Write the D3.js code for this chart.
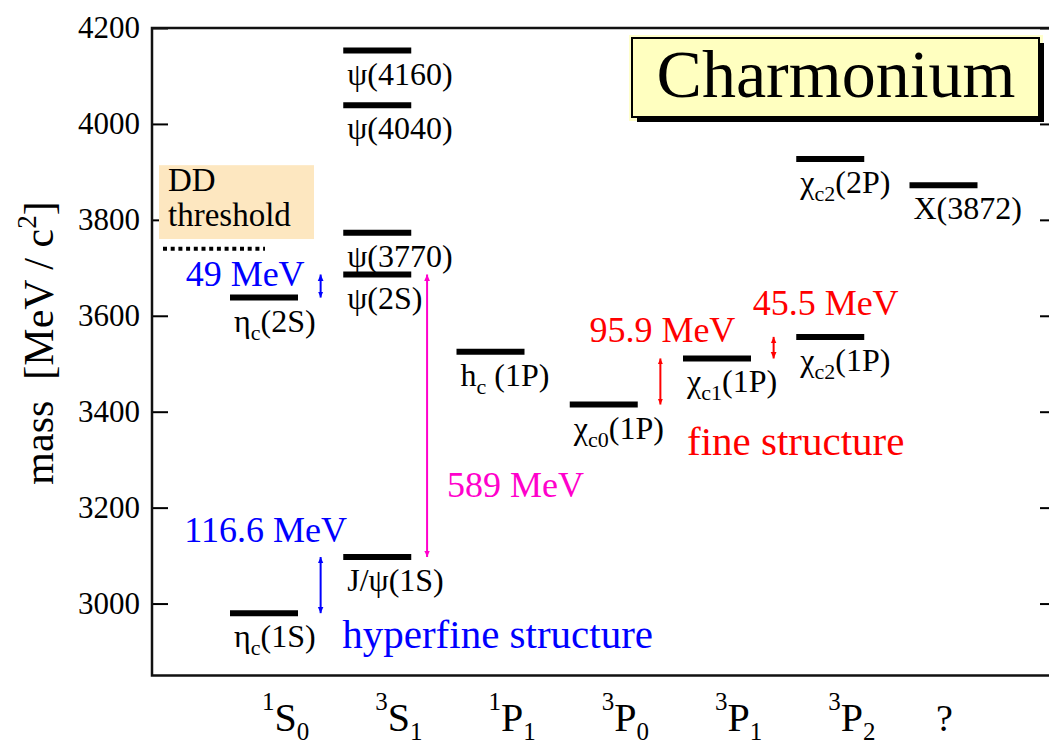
<!DOCTYPE html>
<html>
<head>
<meta charset="utf-8">
<script src="https://cdn.jsdelivr.net/npm/d3@7"></script>
<style>
  body { margin: 0; background: #fff; }
  text { font-family: "Liberation Serif", "Times New Roman", serif; }
</style>
</head>
<body>
<div id="chart"></div>
<script>
// ---- data ----
var categories = ["1S0", "3S1", "1P1", "3P0", "3P1", "3P2", "?"];
var catSup  = ["1", "3", "1", "3", "3", "3", ""];
var catMain = ["S", "S", "P", "P", "P", "P", "?"];
var catSub  = ["0", "1", "1", "0", "1", "2", ""];

var levelBase = ["η", "η", "ψ", "ψ", "ψ", "ψ", "J/ψ", "h", "χ", "χ", "χ", "χ", "X"];
var levelSub  = ["c", "c", "", "", "", "", "", "c", "c0", "c1", "c2", "c2", ""];
var levelTail = ["(1S)", "(2S)", "(4160)", "(4040)", "(3770)", "(2S)", "(1S)", "\u00a0(1P)", "(1P)", "(1P)", "(1P)", "(2P)", "(3872)"];
var levelCol  = ["1S0", "1S0", "3S1", "3S1", "3S1", "3S1", "3S1", "1P1", "3P0", "3P1", "3P2", "3P2", "?"];
var levelMass = [2980, 3638, 4153, 4039, 3773, 3686, 3097, 3525, 3415, 3511, 3556, 3927, 3872];

var yTicks = [3000, 3200, 3400, 3600, 3800, 4000, 4200];
var ddThreshold = 3740;

// splittings (double arrows between two levels)
var splitText = ["49 MeV", "116.6 MeV", "589 MeV", "95.9 MeV", "45.5 MeV"];
var splitLow  = [3638, 2980, 3097, 3415, 3511];
var splitHigh = [3686, 3097, 3686, 3511, 3556];

// ---- layout ----
var W = 1049, H = 741;
var plot = { left: 152, top: 28, right: 1050, bottom: 675.5 };
var serif = '"Liberation Serif", "Times New Roman", serif';

var svg = d3.select("#chart").append("svg")
    .attr("width", W)
    .attr("height", H);

var y = d3.scaleLinear().domain([2850, 4200]).range([plot.bottom, plot.top]);
var x = d3.scalePoint().domain(categories).range([264, 943.5]);
var step = x.step();
function xcol(f) { return x(categories[0]) + f * step; }  // fractional column position

// arrow positions (in columns) and label placement
var splitCol    = [0.5, 0.5, 1.44, 3.5, 4.5];
var splitColor  = ["#0000ff", "#0000ff", "#ff00cc", "#ff0000", "#ff0000"];
var splitDx     = [-16, -55, 20, 2, 52];
var splitAnchor = ["end", "middle", "start", "middle", "middle"];
var splitTextAt = [3662, 3129, 3222, 3546, 3602];

// ---- markers ----
var defs = svg.append("defs");
Array.from(new Set(splitColor)).forEach(function(c) {
    var id = "arr" + c.slice(1);
    defs.append("marker")
        .attr("id", id + "e")
        .attr("markerUnits", "userSpaceOnUse")
        .attr("markerWidth", 12).attr("markerHeight", 12)
        .attr("viewBox", "-6 -6 12 12")
        .attr("refX", 0).attr("refY", 0)
        .attr("orient", "auto")
        .append("path")
            .attr("d", "M0,0 L-9,-4 L-9,4 Z")
            .attr("fill", c);
    defs.append("marker")
        .attr("id", id + "s")
        .attr("markerUnits", "userSpaceOnUse")
        .attr("markerWidth", 12).attr("markerHeight", 12)
        .attr("viewBox", "-6 -6 12 12")
        .attr("refX", 0).attr("refY", 0)
        .attr("orient", "auto")
        .append("path")
            .attr("d", "M0,0 L9,-4 L9,4 Z")
            .attr("fill", c);
});

// ---- axes ----
var leftAxis = d3.axisLeft(y).tickValues(yTicks).tickFormat(d3.format("d"))
    .tickSizeInner(-16).tickSizeOuter(0).tickPadding(12);
svg.append("g")
    .attr("transform", "translate(" + plot.left + ",0)")
    .call(leftAxis)
    .call(g => g.select(".domain").remove())
    .call(g => g.selectAll(".tick line").attr("stroke", "#000").attr("stroke-width", 2))
    .call(g => g.selectAll(".tick text")
        .attr("fill", "#000")
        .attr("font-family", serif)
        .attr("font-size", 31));

var rightAxis = d3.axisRight(y).tickValues(yTicks).tickSizeInner(-10).tickSizeOuter(0).tickFormat("");
svg.append("g")
    .attr("transform", "translate(" + plot.right + ",0)")
    .call(rightAxis)
    .call(g => g.select(".domain").remove())
    .call(g => g.selectAll(".tick line").attr("stroke", "#000").attr("stroke-width", 2));

// frame
svg.append("path")
    .attr("d", "M" + plot.right + "," + plot.top + " H" + plot.left + " V" + plot.bottom + " H" + plot.right)
    .attr("fill", "none")
    .attr("stroke", "#111")
    .attr("stroke-width", 2.5);

// bottom category labels
var catLab = svg.append("g").selectAll("text")
    .data(categories)
    .enter().append("text")
        .attr("x", (d, i) => catSup[i] ? x(d) - 2 : x(d) + 1)
        .attr("y", 731)
        .attr("text-anchor", (d, i) => catSup[i] ? "start" : "middle")
        .attr("fill", "#000");
catLab.each(function(d, i) {
    var t = d3.select(this);
    if (catSup[i]) {
        t.append("tspan").attr("font-size", 25).attr("dy", -21).text(catSup[i]);
        t.append("tspan").attr("font-size", 40).attr("dy", 21).text(catMain[i]);
        t.append("tspan").attr("font-size", 25).attr("dy", 9).text(catSub[i]);
    } else {
        t.append("tspan").attr("font-size", 38).text(catMain[i]);
    }
});

// y axis title
svg.append("text")
    .attr("transform", "translate(53,343) rotate(-90)")
    .attr("text-anchor", "middle")
    .attr("font-size", 42)
    .attr("fill", "#000")
    .call(t => {
        t.append("tspan").text("mass\u00a0\u00a0[MeV / c");
        t.append("tspan").attr("font-size", 27).attr("dy", -17).text("2");
        t.append("tspan").attr("dy", 17).text("]");
    });

// DD threshold box + dotted line
svg.append("rect")
    .attr("x", x("1S0") - 105).attr("y", y(3914))
    .attr("width", 155).attr("height", y(3760) - y(3914))
    .attr("fill", "#fde7c0");
svg.append("text")
    .attr("x", x("1S0") - 96).attr("y", y(3860))
    .attr("font-size", 33).attr("fill", "#000")
    .text("DD");
svg.append("text")
    .attr("x", x("1S0") - 96).attr("y", y(3788))
    .attr("font-size", 33).attr("fill", "#000")
    .text("threshold");
svg.append("line")
    .attr("x1", x("1S0") - 101).attr("x2", x("1S0") + 1)
    .attr("y1", y(ddThreshold)).attr("y2", y(ddThreshold))
    .attr("stroke", "#000")
    .attr("stroke-width", 4)
    .attr("stroke-dasharray", "4 3.7");

// energy levels
var half = 34;
svg.append("g").selectAll("line")
    .data(levelMass)
    .enter().append("line")
        .attr("x1", (d, i) => x(levelCol[i]) - half)
        .attr("x2", (d, i) => x(levelCol[i]) + half)
        .attr("y1", d => y(d))
        .attr("y2", d => y(d))
        .attr("stroke", "#000")
        .attr("stroke-width", 6);

var lvLab = svg.append("g").selectAll("text")
    .data(levelMass)
    .enter().append("text")
        .attr("x", (d, i) => x(levelCol[i]) - half + 4)
        .attr("y", d => y(d) + 34)
        .attr("font-size", 32)
        .attr("fill", "#000");
lvLab.each(function(d, i) {
    var t = d3.select(this);
    t.append("tspan").text(levelBase[i]);
    if (levelSub[i]) {
        t.append("tspan").attr("font-size", 22).attr("dy", 8).text(levelSub[i]);
        t.append("tspan").attr("dy", -8).text(levelTail[i]);
    } else {
        t.append("tspan").text(levelTail[i]);
    }
});

// splitting arrows
svg.append("g").selectAll("line")
    .data(splitText)
    .enter().append("line")
        .attr("x1", (d, i) => xcol(splitCol[i]))
        .attr("x2", (d, i) => xcol(splitCol[i]))
        .attr("y1", (d, i) => y(splitLow[i]))
        .attr("y2", (d, i) => y(splitHigh[i]))
        .attr("stroke", (d, i) => splitColor[i])
        .attr("stroke-width", 2)
        .attr("marker-start", (d, i) => "url(#arr" + splitColor[i].slice(1) + "s)")
        .attr("marker-end", (d, i) => "url(#arr" + splitColor[i].slice(1) + "e)");

svg.append("g").selectAll("text")
    .data(splitText)
    .enter().append("text")
        .attr("x", (d, i) => xcol(splitCol[i]) + splitDx[i])
        .attr("y", (d, i) => y(splitTextAt[i]))
        .attr("text-anchor", (d, i) => splitAnchor[i])
        .attr("font-size", 36)
        .attr("fill", (d, i) => splitColor[i])
        .text(d => d);

// structure notes
svg.append("text")
    .attr("x", x("3S1") - 35).attr("y", y(2907))
    .attr("font-size", 41).attr("fill", "#0000ff")
    .text("hyperfine structure");
svg.append("text")
    .attr("x", x("3P1") - 30).attr("y", y(3310))
    .attr("font-size", 41).attr("fill", "#ff0000")
    .text("fine structure");

// title box
var tb = svg.append("g");
tb.append("rect").attr("x", 629).attr("y", 35).attr("width", 414).attr("height", 86).attr("fill", "#ffffcc");
tb.append("rect").attr("x", 637).attr("y", 43).attr("width", 407).attr("height", 79).attr("fill", "#000");
tb.append("rect").attr("x", 632).attr("y", 38).attr("width", 407).attr("height", 79)
    .attr("fill", "#ffffc0").attr("stroke", "#000").attr("stroke-width", 2);
tb.append("text")
    .attr("x", 836).attr("y", 97)
    .attr("text-anchor", "middle")
    .attr("font-size", 68)
    .attr("fill", "#000")
    .text("Charmonium");
</script>
</body>
</html>
